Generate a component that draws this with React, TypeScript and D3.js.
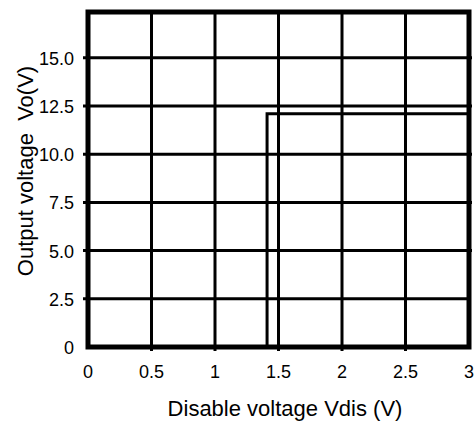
import React from "react";
import * as d3 from "d3";

const xTicks = [0, 0.5, 1, 1.5, 2, 2.5, 3];
const xTickLabels = ["0", "0.5", "1", "1.5", "2", "2.5", "3"];
const yTicks = [0, 2.5, 5, 7.5, 10, 12.5, 15];
const yTickLabels = ["0", "2.5", "5.0", "7.5", "10.0", "12.5", "15.0"];
const stepX = [0, 1.41, 1.41, 3];
const stepY = [0, 0, 12.1, 12.1];

const W = 474, H = 423;
const L = 88, R = 469, T = 12, B = 347;

export default function App() {
  const x = d3.scaleLinear().domain([0, 3]).range([L, R]);
  const y = d3.scaleLinear().domain([0, 17.38]).range([B, T]);
  const line = d3.line<number>().x((_, i) => x(stepX[i])).y((_, i) => y(stepY[i]));
  const font = "'Liberation Sans', Arial, sans-serif";
  return (
    <svg width={W} height={H} style={{ position: "absolute", left: 0, top: 0, background: "#fff" }} fontFamily={font}>
      {yTicks.filter((v) => v > 0).map((v) => (
        <line key={"gy" + v} x1={83} x2={v === 2.5 ? R : 472} y1={y(v)} y2={y(v)} stroke="#000" strokeWidth={3} />
      ))}
      {xTicks.filter((v) => v > 0 && v < 3).map((v) => (
        <line key={"gx" + v} x1={x(v)} x2={x(v)} y1={T} y2={351} stroke="#000" strokeWidth={3} />
      ))}
      <path d={line(stepX) || ""} fill="none" stroke="#000" strokeWidth={3} />
      <rect x={L} y={T} width={R - L} height={B - T} fill="none" stroke="#000" strokeWidth={5} />
      {xTicks.map((v, i) => (
        <text key={"xl" + v} x={x(v)} y={378} textAnchor="middle" fontSize={18}>{xTickLabels[i]}</text>
      ))}
      {yTicks.map((v, i) => (
        <text key={"yl" + v} x={74} y={y(v) + 7} textAnchor="end" fontSize={18}>{yTickLabels[i]}</text>
      ))}
      <text x={285} y={416} textAnchor="middle" fontSize={22}>Disable voltage Vdis (V)</text>
      <text transform="translate(33,171) rotate(-90)" textAnchor="middle" fontSize={22} style={{ whiteSpace: "pre" }}>{"Output voltage  Vo(V)"}</text>
    </svg>
  );
}
